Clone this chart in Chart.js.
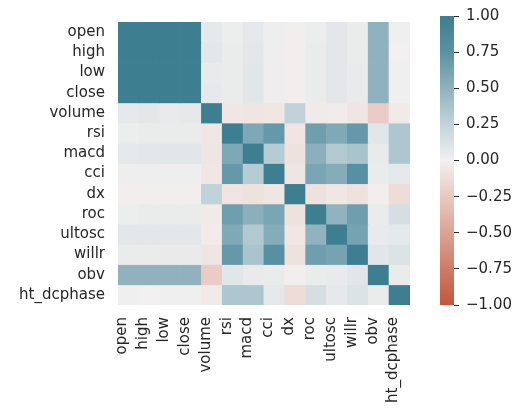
<!DOCTYPE html>
<html>
<head>
<meta charset="utf-8">
<script src="https://cdn.jsdelivr.net/npm/chart.js@4"></script>
<style>
  body { margin: 0; background: #fff; }
  #wrap { position: relative; width: 527px; height: 415px; }
  #heat { position: absolute; left: 0; top: 0; }
  #cbar { position: absolute; left: 430px; top: 0; }
</style>
</head>
<body>
<div id="wrap">
  <canvas id="heat" width="430" height="415"></canvas>
  <canvas id="cbar" width="97" height="415"></canvas>
</div>
<script>
// 변수 이름
const labels = ['open', 'high', 'low', 'close', 'volume', 'rsi', 'macd', 'cci', 'dx', 'roc', 'ultosc', 'willr', 'obv', 'ht_dcphase'];

// 상관계수 (행 단위)
const corrOpen   = [1, 1, 1, 1, 0.06, 0.03, 0.07, 0.02, -0.01, 0.03, 0.08, 0.04, 0.5, 0.01];
const corrHigh   = [1, 1, 1, 1, 0.08, 0.04, 0.08, 0.02, -0.01, 0.04, 0.08, 0.04, 0.5, 0.005];
const corrLow    = [1, 1, 1, 1, 0.05, 0.04, 0.09, 0.02, -0.01, 0.04, 0.08, 0.05, 0.5, 0.01];
const corrClose  = [1, 1, 1, 1, 0.06, 0.04, 0.09, 0.02, -0.01, 0.04, 0.08, 0.05, 0.5, 0.01];
const corrVolume = [0.06, 0.08, 0.05, 0.06, 1, -0.06, -0.07, -0.06, 0.26, -0.04, -0.03, -0.07, -0.23, -0.04];
const corrRsi    = [0.03, 0.04, 0.04, 0.04, -0.06, 1, 0.58, 0.7, -0.08, 0.65, 0.57, 0.7, 0.09, 0.35];
const corrMacd   = [0.07, 0.08, 0.09, 0.09, -0.07, 0.58, 1, 0.31, -0.09, 0.52, 0.33, 0.37, 0.05, 0.35];
const corrCci    = [0.02, 0.02, 0.02, 0.02, -0.06, 0.7, 0.31, 1, -0.07, 0.6, 0.55, 0.78, 0.04, 0.07];
const corrDx     = [-0.01, -0.01, -0.01, -0.01, 0.26, -0.08, -0.09, -0.07, 1, -0.09, -0.06, -0.09, -0.01, -0.13];
const corrRoc    = [0.03, 0.04, 0.04, 0.04, -0.04, 0.65, 0.52, 0.6, -0.09, 1, 0.49, 0.65, 0.04, 0.15];
const corrUltosc = [0.08, 0.08, 0.08, 0.08, -0.03, 0.57, 0.33, 0.55, -0.06, 0.49, 1, 0.62, 0.05, 0.06];
const corrWillr  = [0.04, 0.04, 0.05, 0.05, -0.07, 0.7, 0.37, 0.78, -0.09, 0.65, 0.62, 1, 0.09, 0.12];
const corrObv    = [0.5, 0.5, 0.5, 0.5, -0.23, 0.09, 0.05, 0.04, -0.01, 0.04, 0.05, 0.09, 1, 0.04];
const corrHt     = [0.01, 0.005, 0.01, 0.01, -0.04, 0.35, 0.35, 0.07, -0.13, 0.15, 0.06, 0.12, 0.04, 1];

const corrRows = [corrOpen, corrHigh, corrLow, corrClose, corrVolume, corrRsi, corrMacd,
  corrCci, corrDx, corrRoc, corrUltosc, corrWillr, corrObv, corrHt];

// 컬러바 눈금
const barTicks = [-1, -0.75, -0.5, -0.25, 0, 0.25, 0.5, 0.75, 1];

// 색상 팔레트 (diverging 220 / 20)
const paletteStops = [
  [-1.00, [196, 85, 61]],
  [-0.75, [205, 124, 103]],
  [-0.50, [219, 163, 149]],
  [-0.25, [232, 201, 193]],
  [0.00, [242, 240, 240]],
  [0.25, [194, 212, 218]],
  [0.50, [143, 178, 190]],
  [0.75, [90, 146, 164]],
  [1.00, [61, 126, 145]]
];

function colorFor(v) {
  v = Math.max(-1, Math.min(1, v));
  for (let i = 1; i < paletteStops.length; i++) {
    const [v1, c1] = paletteStops[i];
    const [v0, c0] = paletteStops[i - 1];
    if (v <= v1) {
      const t = (v - v0) / (v1 - v0);
      const c = c0.map((x, k) => Math.round(x + (c1[k] - x) * t));
      return `rgb(${c[0]}, ${c[1]}, ${c[2]})`;
    }
  }
  return 'rgb(61, 126, 145)';
}

const textColor = '#262626';
const font = { family: 'DejaVu Sans', size: 15 };

// 히트맵
function initHeatmap() {
  const ctx = document.getElementById('heat');
  new Chart(ctx, {
    type: 'bar',
    data: {
      labels: labels,
      datasets: corrRows.map((row, r) => ({
        data: row.map(() => [r, r + 1]),
        backgroundColor: row.map(colorFor),
        borderWidth: 0,
        barPercentage: 1,
        categoryPercentage: 1,
        grouped: false
      }))
    },
    options: {
      responsive: false,
      animation: false,
      layout: { padding: { top: 8, right: 15, left: 0, bottom: 0 } },
      plugins: { legend: { display: false }, tooltip: { enabled: false } },
      scales: {
        x: {
          grid: { display: false, drawTicks: false },
          border: { display: false },
          ticks: {
            color: textColor, font: font, autoSkip: false,
            minRotation: 90, maxRotation: 90, padding: 12, labelOffset: -6
          },
          afterFit: (scale) => { scale.height = 110; }
        },
        y: {
          type: 'linear',
          min: 0,
          max: labels.length,
          reverse: true,
          grid: { display: false, drawTicks: false },
          border: { display: false },
          afterBuildTicks: (scale) => {
            scale.ticks = labels.map((_, i) => ({ value: i + 0.5 }));
          },
          ticks: {
            color: textColor, font: font, padding: 13, autoSkip: false,
            callback: (value) => labels[Math.floor(value)]
          },
          afterFit: (scale) => { scale.width = 118; }
        }
      }
    }
  });
}

// 컬러바
function initColorbar() {
  const ctx = document.getElementById('cbar');
  new Chart(ctx, {
    type: 'bar',
    data: {
      labels: [''],
      datasets: [{
        data: [[-1, 1]],
        borderWidth: 0,
        barPercentage: 1,
        categoryPercentage: 1,
        backgroundColor: (c) => {
          const area = c.chart.chartArea;
          if (!area) return colorFor(0);
          const g = c.chart.ctx.createLinearGradient(0, area.bottom, 0, area.top);
          paletteStops.forEach(([v]) => g.addColorStop((v + 1) / 2, colorFor(v)));
          return g;
        }
      }]
    },
    options: {
      responsive: false,
      animation: false,
      layout: { padding: { top: 8, bottom: 110, left: 10, right: 0 } },
      plugins: { legend: { display: false }, tooltip: { enabled: false } },
      scales: {
        x: { display: false },
        y: {
          position: 'right',
          min: -1,
          max: 1,
          border: { display: false },
          grid: { drawOnChartArea: false, drawTicks: true, tickLength: 5, color: textColor, lineWidth: 1 },
          afterBuildTicks: (scale) => {
            scale.ticks = barTicks.map(v => ({ value: v }));
          },
          ticks: {
            color: textColor, font: font, padding: 7,
            callback: (v) => (v < 0 ? '\u2212' : '') + Math.abs(v).toFixed(2)
          },
          afterFit: (scale) => { scale.width = 73; }
        }
      }
    }
  });
}

document.addEventListener('DOMContentLoaded', () => {
  initHeatmap();
  initColorbar();
});
</script>
</body>
</html>
